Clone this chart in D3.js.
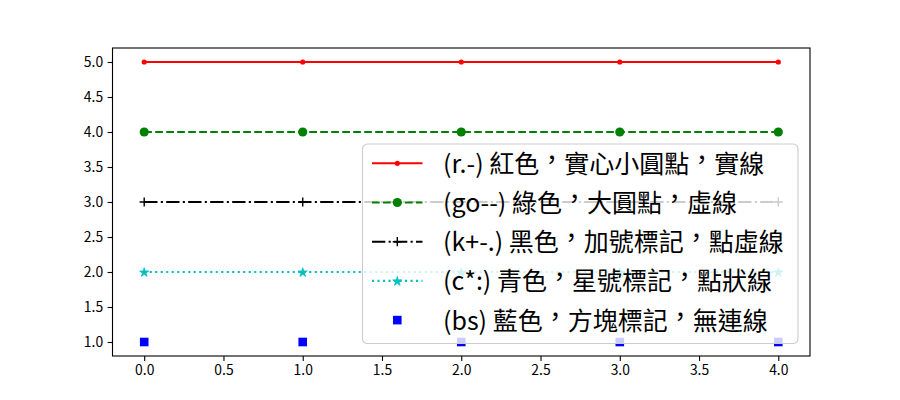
<!DOCTYPE html>
<html lang="zh-TW"><head><meta charset="utf-8">
<script src="https://cdn.jsdelivr.net/npm/d3@7"></script>
<style>body{margin:0;background:#fff}svg{display:block}</style>
</head><body>
<svg id="c" width="900" height="400"></svg>
<script>
const xs = [0, 1, 2, 3, 4];
const redVals = [5, 5, 5, 5, 5];
const greenVals = [4, 4, 4, 4, 4];
const blackVals = [3, 3, 3, 3, 3];
const cyanVals = [2, 2, 2, 2, 2];
const blueVals = [1, 1, 1, 1, 1];
const labels = [
  "(r.-) 紅色，實心小圓點，實線",
  "(go--) 綠色，大圓點，虛線",
  "(k+-.) 黑色，加號標記，點虛線",
  "(c*:) 青色，星號標記，點狀線",
  "(bs) 藍色，方塊標記，無連線"
];
const xTicks = [0, 0.5, 1, 1.5, 2, 2.5, 3, 3.5, 4];
const yTicks = [1, 1.5, 2, 2.5, 3, 3.5, 4, 4.5, 5];

const lw = 2.08;
const series = [
  {vals: redVals, color: "#ff0000", dash: null, marker: "dot", line: true},
  {vals: greenVals, color: "#008000", dash: [7.7, 3.3], marker: "circle", line: true},
  {vals: blackVals, color: "#000000", dash: [13.3, 3.3, 2.1, 3.3], marker: "plus", line: true},
  {vals: cyanVals, color: "#00bfbf", dash: [2.1, 3.4], marker: "star", line: true},
  {vals: blueVals, color: "#0000ff", dash: null, marker: "square", line: false}
];

const svg = d3.select("#c");
const L = 112.5, R = 810, T = 48, B = 356;
const x = d3.scaleLinear().domain([-0.2, 4.2]).range([L, R]);
const y = d3.scaleLinear().domain([0.8, 5.2]).range([B, T]);
const font = "'Noto Sans CJK TC', 'Noto Sans', sans-serif";

function drawMarker(g, type, cx, cy, color) {
  if (type === "dot") {
    g.append("circle").attr("cx", cx).attr("cy", cy).attr("r", 2.6).attr("fill", color);
  } else if (type === "circle") {
    g.append("circle").attr("cx", cx).attr("cy", cy).attr("r", 4.6).attr("fill", color);
  } else if (type === "plus") {
    const s = 4.6;
    g.append("path").attr("d", `M${cx - s},${cy}H${cx + s}M${cx},${cy - s}V${cy + s}`)
      .attr("stroke", color).attr("stroke-width", 1.4).attr("fill", "none");
  } else if (type === "star") {
    const sym = d3.symbol().type(d3.symbolStar).size(26);
    g.append("path").attr("d", sym()).attr("transform", `translate(${cx},${cy + 0.5})`)
      .attr("fill", color).attr("stroke", color).attr("stroke-width", 0.8);
  } else if (type === "square") {
    const s = 8.6;
    g.append("rect").attr("x", cx - s / 2).attr("y", cy - s / 2).attr("width", s).attr("height", s).attr("fill", color);
  }
}

const plot = svg.append("g");
series.forEach(s => {
  if (s.line) {
    plot.append("path")
      .attr("d", d3.line().x((d, i) => x(xs[i])).y(d => y(d))(s.vals))
      .attr("fill", "none").attr("stroke", s.color).attr("stroke-width", lw)
      .attr("stroke-dasharray", s.dash ? s.dash.join(",") : null);
  }
  s.vals.forEach((v, i) => drawMarker(plot, s.marker, x(xs[i]), y(v), s.color));
});

// axes
const xa = svg.append("g").attr("transform", `translate(0,${B})`)
  .call(d3.axisBottom(x).tickValues(xTicks).tickFormat(d3.format(".1f")).tickSize(4.9).tickPadding(4.5));
const ya = svg.append("g").attr("transform", `translate(${L},0)`)
  .call(d3.axisLeft(y).tickValues(yTicks).tickFormat(d3.format(".1f")).tickSize(4.9).tickPadding(4.5));
[xa, ya].forEach(a => {
  a.select(".domain").remove();
  a.selectAll("line").attr("stroke", "#000").attr("stroke-width", 1.1);
  a.selectAll("text").attr("font-family", font).attr("font-size", "13.9px").attr("fill", "#000");
});
svg.append("rect").attr("x", L).attr("y", T).attr("width", R - L).attr("height", B - T)
  .attr("fill", "none").attr("stroke", "#000").attr("stroke-width", 1.1);

// legend
const lg = svg.append("g");
const bx = 362.5, by = 144, bw = 435.5, bh = 199.5;
lg.append("rect").attr("x", bx).attr("y", by).attr("width", bw).attr("height", bh)
  .attr("rx", 5).attr("fill", "rgba(255,255,255,0.8)").attr("stroke", "#cccccc").attr("stroke-width", 1.1);
const rowY = [163.3, 202.5, 241.7, 280.9, 320.1];
const cdy = 4;
series.forEach((s, i) => {
  const cy = rowY[i];
  if (s.line) {
    lg.append("line").attr("x1", 372).attr("x2", 422.5).attr("y1", cy).attr("y2", cy)
      .attr("stroke", s.color).attr("stroke-width", lw)
      .attr("stroke-dasharray", s.dash ? s.dash.join(",") : null);
  }
  drawMarker(lg, s.marker, 397.3, cy, s.color);
  const t = lg.append("text").attr("x", 443).attr("y", cy + 9.5)
    .attr("font-family", font).attr("font-size", "25px").attr("fill", "#000");
  const parts = labels[i].split("，");
  parts.forEach((p, j) => {
    const ts = t.append("tspan").text(p);
    if (j > 0) ts.attr("dy", cdy);
    if (j < parts.length - 1) t.append("tspan").attr("dy", -cdy).text("，");
  });
});
</script>
</body></html>
